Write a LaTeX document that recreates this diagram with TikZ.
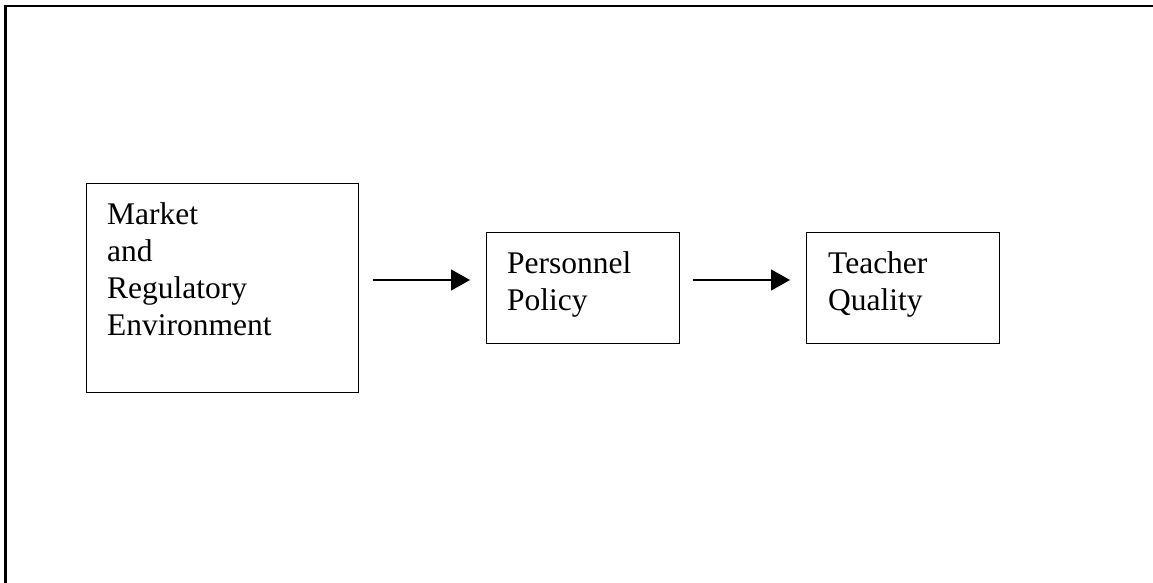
\documentclass[tikz,border=0pt]{standalone}
\usepackage{fontspec}
\setmainfont{Liberation Serif}
\usetikzlibrary{arrows.meta}
\begin{document}
\begin{tikzpicture}[x=1pt,y=-1pt,
  boxstyle/.style={draw, line width=1.3pt, inner sep=0pt, anchor=north west},
  txt/.style={anchor=north west, inner sep=0pt, align=left, font=\fontsize{31.5}{37}\selectfont},
  arr/.style={line width=1.3pt, -{Triangle[length=19pt,width=21pt]}}]
\useasboundingbox (0,0) rectangle (1153,583);
\draw[line width=2.4pt] (5.5,600) -- (5.5,6) -- (1170,6);
\node[boxstyle, minimum width=272pt, minimum height=209pt] (b1) at (86,183) {};
\node[boxstyle, minimum width=193pt, minimum height=111pt] (b2) at (486,232) {};
\node[boxstyle, minimum width=193pt, minimum height=111pt] (b3) at (806,232) {};
\node[txt] (t1) at ([shift={(21,19)}]b1.north west) {Market\\and\\Regulatory\\Environment};
\node[txt] (t2) at ([shift={(21,19)}]b2.north west) {Personnel\\Policy};
\node[txt] (t3) at ([shift={(22,19)}]b3.north west) {Teacher\\Quality};
\coordinate (a1s) at (373,280);
\coordinate (a1e) at (470,280);
\coordinate (a2s) at (693,280);
\coordinate (a2e) at (790,280);
\draw[arr] (a1s) -- (a1e);
\draw[arr] (a2s) -- (a2e);
\end{tikzpicture}
\end{document}
